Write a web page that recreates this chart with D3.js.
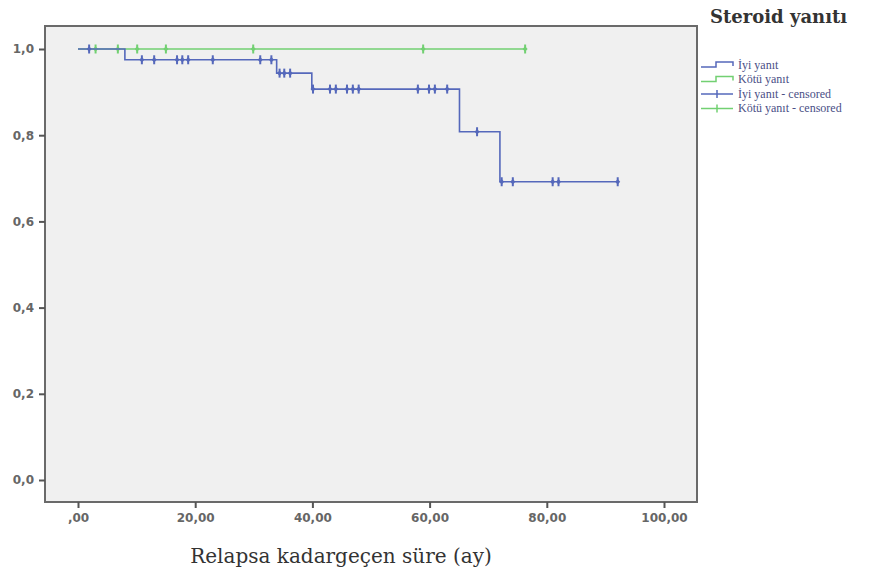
<!DOCTYPE html>
<html>
<head>
<meta charset="UTF-8">
<title>Steroid yanıtı</title>
<script src="https://cdn.jsdelivr.net/npm/d3@7"></script>
<style>
  body { margin: 0; background: #fff; }
  svg { display: block; }
</style>
</head>
<body>
<svg id="chart" width="869" height="576"></svg>
<script>
// step curves: time (ay) at which each level starts
var iyiTimes = [0, 8.0, 33.9, 39.9, 65.1, 72.0];
var iyiSurv = [1.0, 0.975, 0.944, 0.907, 0.808, 0.692];
var iyiEnd = 92.1;
var iyiCensored = [1.9, 10.9, 13.0, 16.9, 17.8, 18.8, 23.0, 31.1, 33.0,
                   34.4, 35.2, 36.2, 40.1, 43.0, 44.0, 45.9, 46.9, 47.9,
                   58.0, 59.9, 60.9, 63.0, 68.1, 72.3, 74.2, 81.0, 82.0, 92.1];

var kotuTimes = [0];
var kotuSurv = [1.0];
var kotuEnd = 76.3;
var kotuCensored = [3.0, 6.8, 10.1, 15.0, 29.9, 58.9, 76.3];

var xTicks = [0, 20, 40, 60, 80, 100];
var yTicks = [0, 0.2, 0.4, 0.6, 0.8, 1.0];

var legendLabels = ["İyi yanıt", "Kötü yanıt", "İyi yanıt - censored", "Kötü yanıt - censored"];

var blue = "#5568bb", green = "#72d072";

var svg = d3.select("#chart");

var frame = { left: 45, top: 26, right: 697, bottom: 502 };

var x = d3.scaleLinear().domain([0, 100]).range([78, 664]);
var y = d3.scaleLinear().domain([0, 1]).range([480, 49]);

// plot background and frame
svg.append("rect")
  .attr("x", frame.left).attr("y", frame.top)
  .attr("width", frame.right - frame.left).attr("height", frame.bottom - frame.top)
  .attr("fill", "#f0f0f0")
  .attr("stroke", "#6a6a6a").attr("stroke-width", 2);

// axes
var fmtX = function(d) { return d === 0 ? ",00" : d3.format(".2f")(d).replace(".", ","); };
var fmtY = function(d) { return d3.format(".1f")(d).replace(".", ","); };

var xAxis = svg.append("g")
  .attr("transform", "translate(0," + frame.bottom + ")")
  .call(d3.axisBottom(x).tickValues(xTicks).tickFormat(fmtX).tickSize(6).tickPadding(5));
var yAxis = svg.append("g")
  .attr("transform", "translate(" + frame.left + ",0)")
  .call(d3.axisLeft(y).tickValues(yTicks).tickFormat(fmtY).tickSize(6).tickPadding(5));

[xAxis, yAxis].forEach(function(g) {
  g.select(".domain").remove();
  g.selectAll(".tick line").attr("stroke", "#555").attr("stroke-width", 2);
  g.selectAll(".tick text")
    .attr("fill", "#666")
    .style("font-family", "'DejaVu Sans', sans-serif")
    .style("font-size", "12px")
    .style("font-weight", "bold");
});

function stepLevel(times, surv, t) {
  var i = d3.bisectRight(times, t) - 1;
  return surv[Math.max(i, 0)];
}

function stepPath(times, surv, end) {
  var pts = [];
  for (var i = 0; i < times.length; i++) {
    if (i > 0) pts.push([x(times[i]), y(surv[i - 1])]);
    pts.push([x(times[i]), y(surv[i])]);
  }
  pts.push([x(end), y(surv[surv.length - 1])]);
  return d3.line()(pts);
}

function drawCurve(times, surv, end, censored, color) {
  svg.append("path")
    .attr("d", stepPath(times, surv, end))
    .attr("fill", "none")
    .attr("stroke", color)
    .attr("stroke-width", 1.6);
  var g = svg.append("g");
  censored.forEach(function(t) {
    var cx = x(t), cy = y(stepLevel(times, surv, t));
    g.append("line")
      .attr("x1", cx).attr("x2", cx)
      .attr("y1", cy - 4.5).attr("y2", cy + 4.5)
      .attr("stroke", color).attr("stroke-width", 2);
    g.append("path")
      .attr("d", "M" + cx + "," + (cy - 2.8) + "L" + (cx + 2.5) + "," + cy + "L" + cx + "," + (cy + 2.8) + "L" + (cx - 2.5) + "," + cy + "Z")
      .attr("fill", color);
  });
}

drawCurve(kotuTimes, kotuSurv, kotuEnd, kotuCensored, green);
drawCurve(iyiTimes, iyiSurv, iyiEnd, iyiCensored, blue);

// axis title
svg.append("text")
  .attr("x", 341).attr("y", 563)
  .attr("text-anchor", "middle")
  .style("font-family", "'DejaVu Serif', serif")
  .style("font-size", "20px")
  .attr("fill", "#333")
  .text("Relapsa kadargeçen süre (ay)");

// legend
svg.append("text")
  .attr("x", 710).attr("y", 23)
  .style("font-family", "'DejaVu Serif', serif")
  .style("font-size", "18px")
  .style("font-weight", "bold")
  .attr("fill", "#333")
  .text("Steroid yanıtı");

var legendColors = [blue, green, blue, green];
var legend = svg.append("g");
legendLabels.forEach(function(label, i) {
  var ly = 65 + i * 14.5;
  if (i < 2) {
    legend.append("path")
      .attr("d", "M701," + (ly + 2) + "H716V" + (ly - 3) + "H733V" + (ly + 1))
      .attr("fill", "none").attr("stroke", legendColors[i]).attr("stroke-width", 1.5);
  } else {
    legend.append("line")
      .attr("x1", 701).attr("x2", 733).attr("y1", ly).attr("y2", ly)
      .attr("stroke", legendColors[i]).attr("stroke-width", 1.5);
    legend.append("line")
      .attr("x1", 717).attr("x2", 717).attr("y1", ly - 4).attr("y2", ly + 4)
      .attr("stroke", legendColors[i]).attr("stroke-width", 1.5);
  }
  legend.append("text")
    .attr("x", 738).attr("y", ly + 3.5)
    .style("font-family", "'Liberation Serif', serif")
    .style("font-size", "12px")
    .attr("fill", "#4a4f86")
    .text(label);
});
</script>
</body>
</html>
